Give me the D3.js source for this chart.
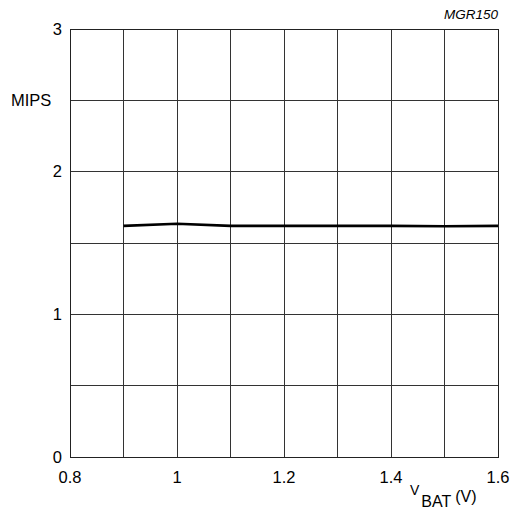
<!DOCTYPE html>
<html><head><meta charset="utf-8">
<script src="https://cdn.jsdelivr.net/npm/d3@7"></script>
<style>body{margin:0;background:#fff}svg{display:block}text{font-family:"Liberation Sans",Arial,sans-serif;fill:#000}</style>
</head><body>
<script>
const vbat = [0.9, 1.0, 1.1, 1.2, 1.3, 1.4, 1.5, 1.6];
const mips = [1.62, 1.635, 1.62, 1.62, 1.62, 1.62, 1.617, 1.62];
const xTicks = [0.8, 1, 1.2, 1.4, 1.6];
const yTicks = [0, 1, 2, 3];
const xGrid = [0.9, 1.0, 1.1, 1.2, 1.3, 1.4, 1.5];
const yGrid = [0.5, 1, 1.5, 2, 2.5];

const W = 512, H = 513;
const m = {l:70, r:14, t:29, b:56};
const svg = d3.select("body").append("svg").attr("width", W).attr("height", H);
const x = d3.scaleLinear().domain([0.8, 1.6]).range([m.l, W - m.r]);
const y = d3.scaleLinear().domain([0, 3]).range([H - m.b, m.t]);

const g = svg.append("g");
g.selectAll(".vg").data(xGrid).join("line")
  .attr("x1", d => x(d)).attr("x2", d => x(d)).attr("y1", y(0)).attr("y2", y(3))
  .attr("stroke", "#333").attr("stroke-width", 1).attr("shape-rendering", "crispEdges");
g.selectAll(".hg").data(yGrid).join("line")
  .attr("y1", d => y(d)).attr("y2", d => y(d)).attr("x1", x(0.8)).attr("x2", x(1.6))
  .attr("stroke", "#333").attr("stroke-width", 1).attr("shape-rendering", "crispEdges");
g.append("rect").attr("x", x(0.8)).attr("y", y(3)).attr("width", x(1.6) - x(0.8)).attr("height", y(0) - y(3))
  .attr("fill", "none").attr("stroke", "#222").attr("stroke-width", 1).attr("shape-rendering", "crispEdges");

svg.selectAll(".yt").data(yTicks).join("text")
  .attr("x", x(0.8) - 8).attr("y", d => y(d)).attr("dy", "0.35em")
  .attr("text-anchor", "end").attr("font-size", 16.5).text(d => d);
svg.selectAll(".xt").data(xTicks).join("text")
  .attr("x", d => x(d)).attr("y", y(0) + 26)
  .attr("text-anchor", "middle").attr("font-size", 16.5).text(d => d);

svg.append("text").attr("x", 11).attr("y", 106).attr("font-size", 16.5).text("MIPS");
const xl = svg.append("text").attr("x", 410).attr("y", 495).attr("font-size", 16);
xl.append("tspan").attr("font-size", 14).text("V");
xl.append("tspan").attr("dy", 12).attr("dx", 2).text("BAT");
xl.append("tspan").attr("dy", -5).attr("dx", 4).text("(V)");
svg.append("text").attr("x", 498).attr("y", 19).attr("text-anchor", "end")
  .attr("font-size", 13.5).attr("font-style", "italic").text("MGR150");

const line = d3.line().x((d, i) => x(vbat[i])).y(d => y(d));
svg.append("path").datum(mips).attr("d", line)
  .attr("fill", "none").attr("stroke", "#000").attr("stroke-width", 2.6);
</script>
</body></html>
